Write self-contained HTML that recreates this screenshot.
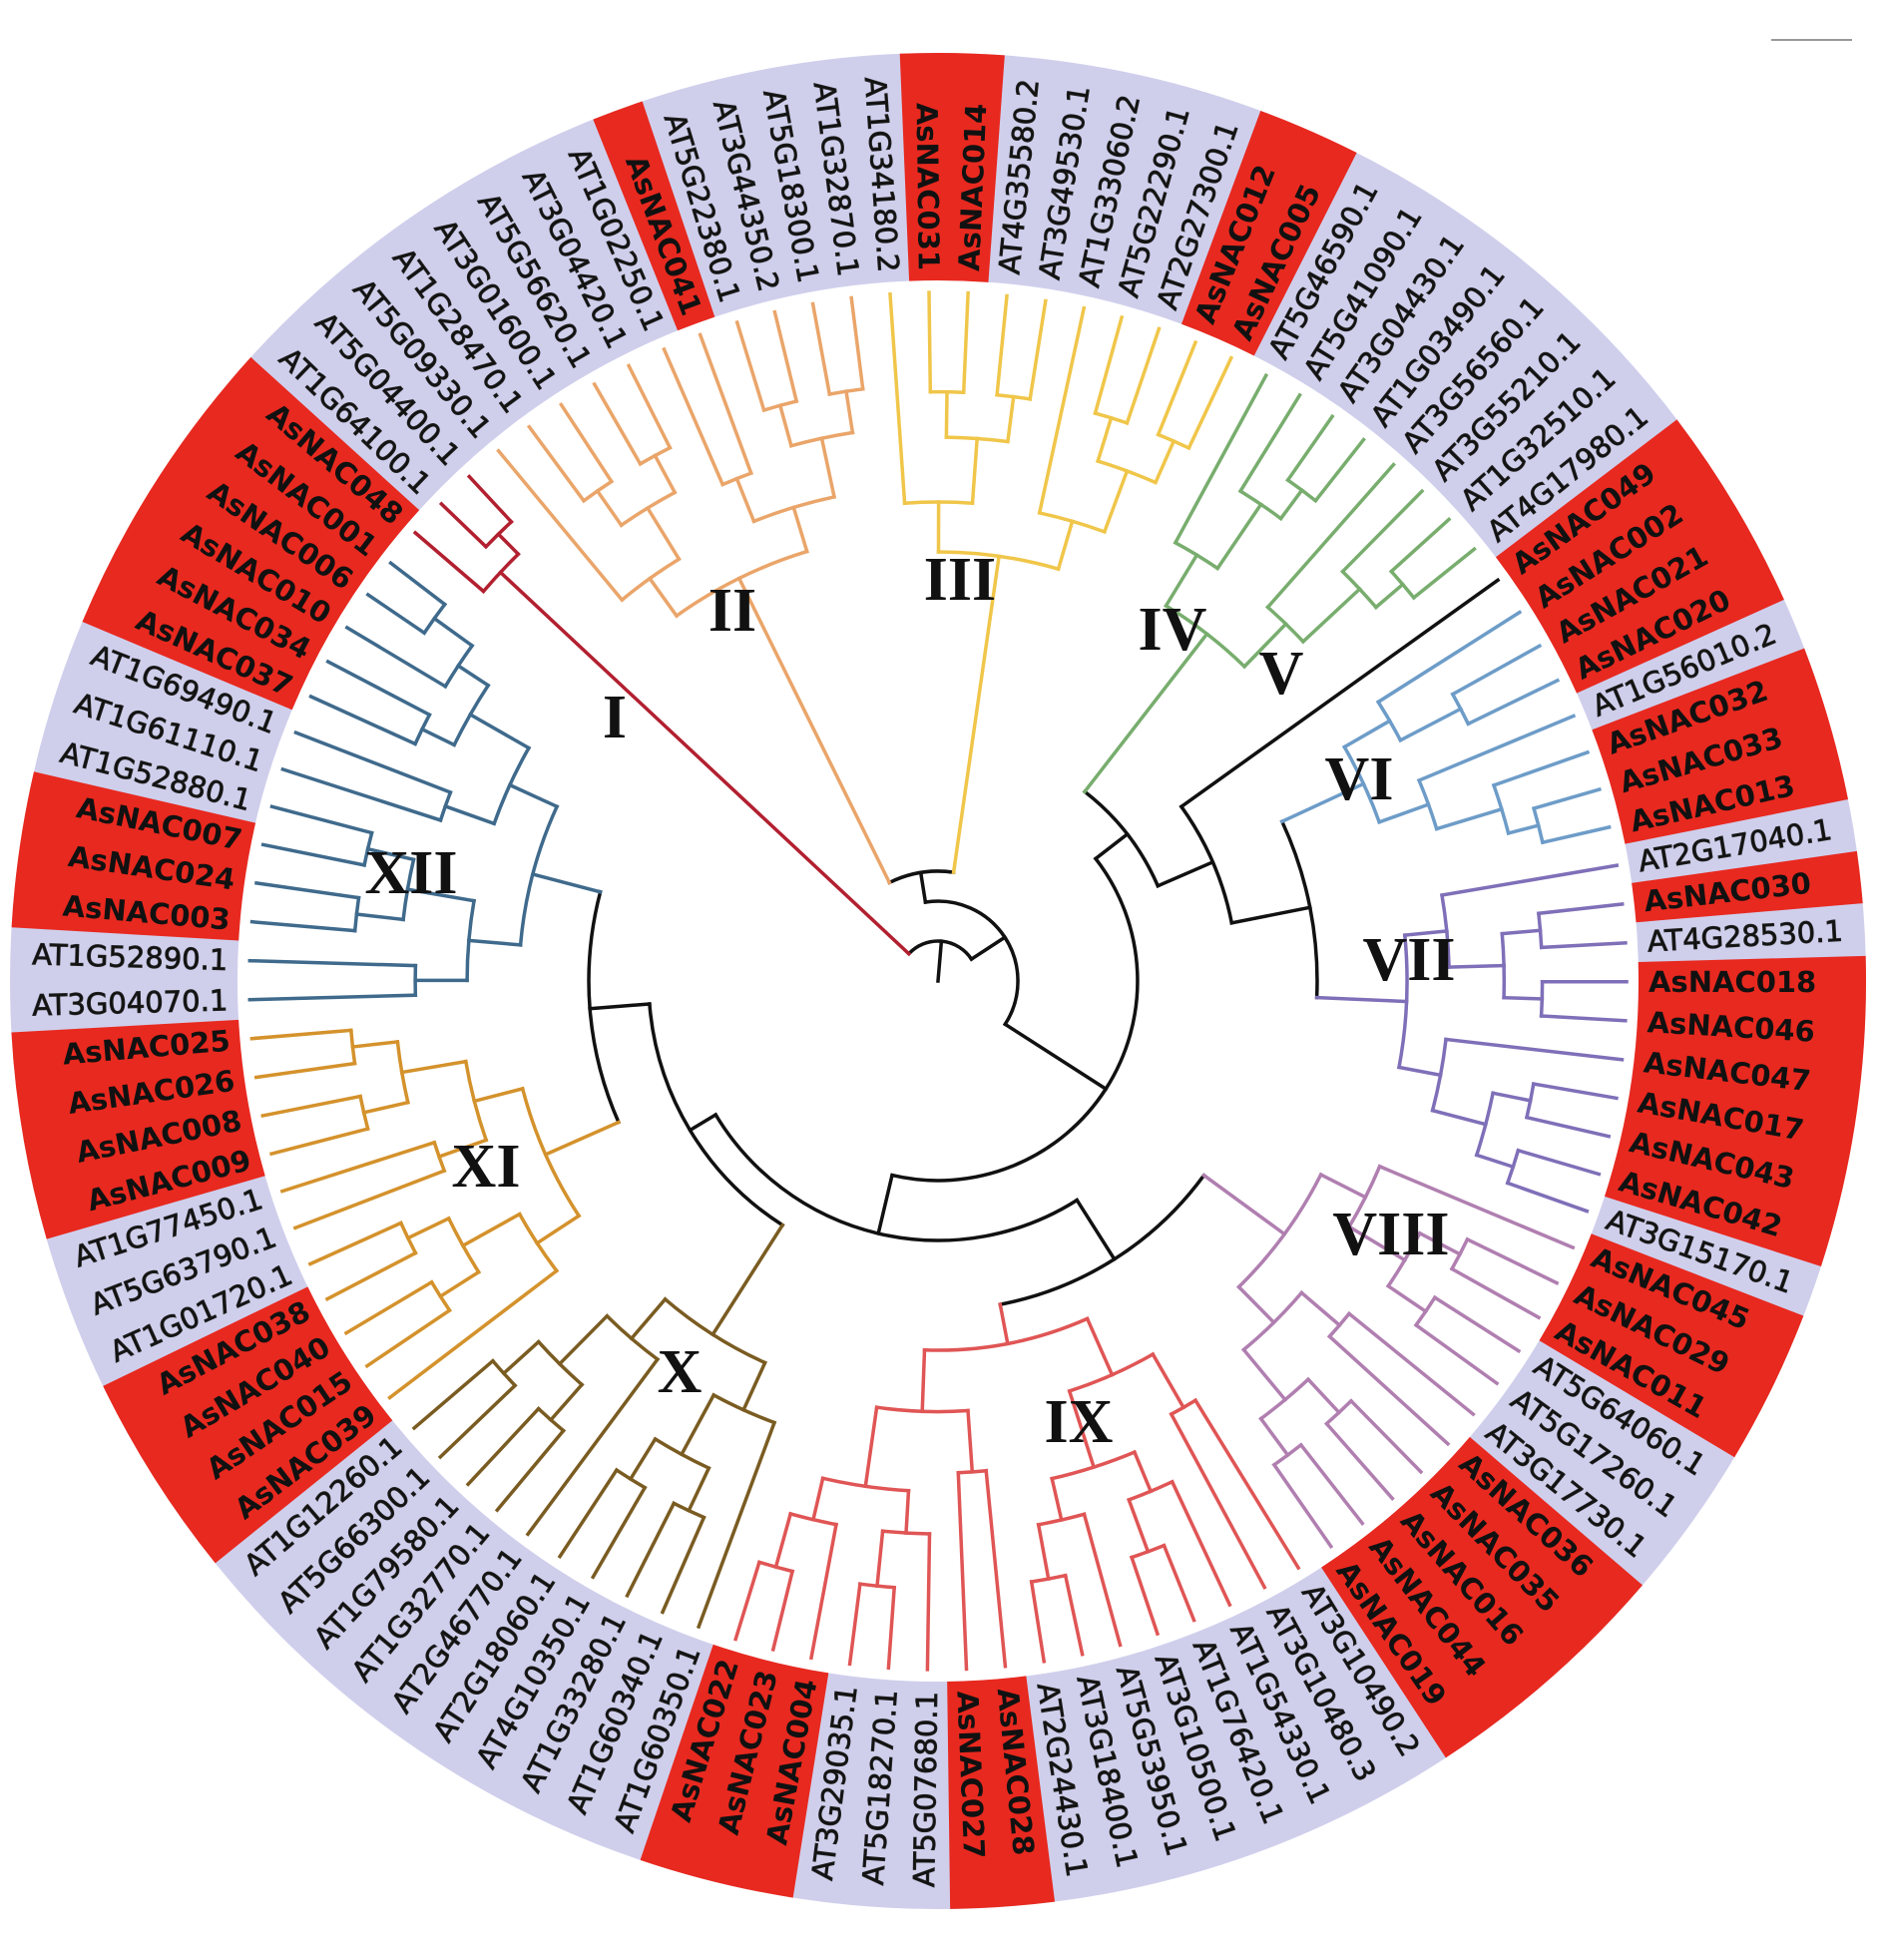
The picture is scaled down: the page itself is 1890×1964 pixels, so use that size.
<!DOCTYPE html>
<html><head><meta charset="utf-8"><style>
html,body{margin:0;padding:0;background:#fff;width:1890px;height:1964px;overflow:hidden;}
svg{display:block;}
.t text{font-family:"DejaVu Sans","Liberation Sans",sans-serif;font-size:29px;fill:#111;dominant-baseline:central;}
.r{text-anchor:start;}
.l{text-anchor:end;}
.a{font-weight:bold;fill:#1a0a0a;}
.n{stroke:#222;stroke-width:0.9px;}
.rom{font-family:"Liberation Serif",serif;font-weight:bold;font-size:62px;fill:#111;text-anchor:middle;dominant-baseline:central;}
</style></head><body>
<svg id="s" width="1890" height="1964" viewBox="0 0 1890 1964" xmlns="http://www.w3.org/2000/svg">
<rect width="1890" height="1964" fill="#fff"/>
<circle cx="940" cy="983" r="816" fill="none" stroke="#cfcfec" stroke-width="228"/>
<g fill="none" stroke="#e8291f" stroke-width="228">
<circle cx="940" cy="983" r="816" stroke-dasharray="92.38 6000" transform="rotate(267.64 940 983)"/>
<circle cx="940" cy="983" r="816" stroke-dasharray="92.38 6000" transform="rotate(-69.66 940 983)"/>
<circle cx="940" cy="983" r="816" stroke-dasharray="184.76 6000" transform="rotate(-37.23 940 983)"/>
<circle cx="940" cy="983" r="816" stroke-dasharray="138.57 6000" transform="rotate(-21.01 940 983)"/>
<circle cx="940" cy="983" r="816" stroke-dasharray="46.19 6000" transform="rotate(-8.04 940 983)"/>
<circle cx="940" cy="983" r="816" stroke-dasharray="277.14 6000" transform="rotate(-1.55 940 983)"/>
<circle cx="940" cy="983" r="816" stroke-dasharray="138.57 6000" transform="rotate(21.15 940 983)"/>
<circle cx="940" cy="983" r="816" stroke-dasharray="230.95 6000" transform="rotate(40.61 940 983)"/>
<circle cx="940" cy="983" r="816" stroke-dasharray="92.38 6000" transform="rotate(82.77 940 983)"/>
<circle cx="940" cy="983" r="816" stroke-dasharray="138.57 6000" transform="rotate(98.99 940 983)"/>
<circle cx="940" cy="983" r="816" stroke-dasharray="184.76 6000" transform="rotate(141.15 940 983)"/>
<circle cx="940" cy="983" r="816" stroke-dasharray="184.76 6000" transform="rotate(163.85 940 983)"/>
<circle cx="940" cy="983" r="816" stroke-dasharray="138.57 6000" transform="rotate(183.31 940 983)"/>
<circle cx="940" cy="983" r="816" stroke-dasharray="277.14 6000" transform="rotate(202.77 940 983)"/>
<circle cx="940" cy="983" r="816" stroke-dasharray="46.19 6000" transform="rotate(248.18 940 983)"/>
</g>
<line x1="1775" y1="40" x2="1856" y2="40" stroke="#999" stroke-width="2"/>
<g id="tree" fill="none" stroke-width="3.5" stroke-linecap="square"></g>
<g class="t">
<text class="r a" x="1652" y="983" transform="rotate(-87.5 940 983)">AsNAC014</text>
<text class="r n" x="1652" y="983" transform="rotate(-84.26 940 983)">AT4G35580.2</text>
<text class="r n" x="1652" y="983" transform="rotate(-81.01 940 983)">AT3G49530.1</text>
<text class="r n" x="1652" y="983" transform="rotate(-77.77 940 983)">AT1G33060.2</text>
<text class="r n" x="1652" y="983" transform="rotate(-74.53 940 983)">AT5G22290.1</text>
<text class="r n" x="1652" y="983" transform="rotate(-71.28 940 983)">AT2G27300.1</text>
<text class="r a" x="1652" y="983" transform="rotate(-68.04 940 983)">AsNAC012</text>
<text class="r a" x="1652" y="983" transform="rotate(-64.80 940 983)">AsNAC005</text>
<text class="r n" x="1652" y="983" transform="rotate(-61.55 940 983)">AT5G46590.1</text>
<text class="r n" x="1652" y="983" transform="rotate(-58.31 940 983)">AT5G41090.1</text>
<text class="r n" x="1652" y="983" transform="rotate(-55.07 940 983)">AT3G04430.1</text>
<text class="r n" x="1652" y="983" transform="rotate(-51.82 940 983)">AT1G03490.1</text>
<text class="r n" x="1652" y="983" transform="rotate(-48.58 940 983)">AT3G56560.1</text>
<text class="r n" x="1652" y="983" transform="rotate(-45.34 940 983)">AT3G55210.1</text>
<text class="r n" x="1652" y="983" transform="rotate(-42.09 940 983)">AT1G32510.1</text>
<text class="r n" x="1652" y="983" transform="rotate(-38.85 940 983)">AT4G17980.1</text>
<text class="r a" x="1652" y="983" transform="rotate(-35.61 940 983)">AsNAC049</text>
<text class="r a" x="1652" y="983" transform="rotate(-32.36 940 983)">AsNAC002</text>
<text class="r a" x="1652" y="983" transform="rotate(-29.12 940 983)">AsNAC021</text>
<text class="r a" x="1652" y="983" transform="rotate(-25.88 940 983)">AsNAC020</text>
<text class="r n" x="1652" y="983" transform="rotate(-22.64 940 983)">AT1G56010.2</text>
<text class="r a" x="1652" y="983" transform="rotate(-19.39 940 983)">AsNAC032</text>
<text class="r a" x="1652" y="983" transform="rotate(-16.15 940 983)">AsNAC033</text>
<text class="r a" x="1652" y="983" transform="rotate(-12.91 940 983)">AsNAC013</text>
<text class="r n" x="1652" y="983" transform="rotate(-9.66 940 983)">AT2G17040.1</text>
<text class="r a" x="1652" y="983" transform="rotate(-6.42 940 983)">AsNAC030</text>
<text class="r n" x="1652" y="983" transform="rotate(-3.18 940 983)">AT4G28530.1</text>
<text class="r a" x="1652" y="983" transform="rotate(0.07 940 983)">AsNAC018</text>
<text class="r a" x="1652" y="983" transform="rotate(3.31 940 983)">AsNAC046</text>
<text class="r a" x="1652" y="983" transform="rotate(6.55 940 983)">AsNAC047</text>
<text class="r a" x="1652" y="983" transform="rotate(9.80 940 983)">AsNAC017</text>
<text class="r a" x="1652" y="983" transform="rotate(13.04 940 983)">AsNAC043</text>
<text class="r a" x="1652" y="983" transform="rotate(16.28 940 983)">AsNAC042</text>
<text class="r n" x="1652" y="983" transform="rotate(19.53 940 983)">AT3G15170.1</text>
<text class="r a" x="1652" y="983" transform="rotate(22.77 940 983)">AsNAC045</text>
<text class="r a" x="1652" y="983" transform="rotate(26.01 940 983)">AsNAC029</text>
<text class="r a" x="1652" y="983" transform="rotate(29.26 940 983)">AsNAC011</text>
<text class="r n" x="1652" y="983" transform="rotate(32.50 940 983)">AT5G64060.1</text>
<text class="r n" x="1652" y="983" transform="rotate(35.74 940 983)">AT5G17260.1</text>
<text class="r n" x="1652" y="983" transform="rotate(38.99 940 983)">AT3G17730.1</text>
<text class="r a" x="1652" y="983" transform="rotate(42.23 940 983)">AsNAC036</text>
<text class="r a" x="1652" y="983" transform="rotate(45.47 940 983)">AsNAC035</text>
<text class="r a" x="1652" y="983" transform="rotate(48.72 940 983)">AsNAC016</text>
<text class="r a" x="1652" y="983" transform="rotate(51.96 940 983)">AsNAC044</text>
<text class="r a" x="1652" y="983" transform="rotate(55.20 940 983)">AsNAC019</text>
<text class="r n" x="1652" y="983" transform="rotate(58.45 940 983)">AT3G10490.2</text>
<text class="r n" x="1652" y="983" transform="rotate(61.69 940 983)">AT3G10480.3</text>
<text class="r n" x="1652" y="983" transform="rotate(64.93 940 983)">AT1G54330.1</text>
<text class="r n" x="1652" y="983" transform="rotate(68.18 940 983)">AT1G76420.1</text>
<text class="r n" x="1652" y="983" transform="rotate(71.42 940 983)">AT3G10500.1</text>
<text class="r n" x="1652" y="983" transform="rotate(74.66 940 983)">AT5G53950.1</text>
<text class="r n" x="1652" y="983" transform="rotate(77.91 940 983)">AT3G18400.1</text>
<text class="r n" x="1652" y="983" transform="rotate(81.15 940 983)">AT2G24430.1</text>
<text class="r a" x="1652" y="983" transform="rotate(84.39 940 983)">AsNAC028</text>
<text class="r a" x="1652" y="983" transform="rotate(87.64 940 983)">AsNAC027</text>
<text class="l n" x="228" y="983" transform="rotate(-89.12 940 983)">AT5G07680.1</text>
<text class="l n" x="228" y="983" transform="rotate(-85.88 940 983)">AT5G18270.1</text>
<text class="l n" x="228" y="983" transform="rotate(-82.64 940 983)">AT3G29035.1</text>
<text class="l a" x="228" y="983" transform="rotate(-79.39 940 983)">AsNAC004</text>
<text class="l a" x="228" y="983" transform="rotate(-76.15 940 983)">AsNAC023</text>
<text class="l a" x="228" y="983" transform="rotate(-72.91 940 983)">AsNAC022</text>
<text class="l n" x="228" y="983" transform="rotate(-69.66 940 983)">AT1G60350.1</text>
<text class="l n" x="228" y="983" transform="rotate(-66.42 940 983)">AT1G60340.1</text>
<text class="l n" x="228" y="983" transform="rotate(-63.18 940 983)">AT1G33280.1</text>
<text class="l n" x="228" y="983" transform="rotate(-59.93 940 983)">AT4G10350.1</text>
<text class="l n" x="228" y="983" transform="rotate(-56.69 940 983)">AT2G18060.1</text>
<text class="l n" x="228" y="983" transform="rotate(-53.45 940 983)">AT2G46770.1</text>
<text class="l n" x="228" y="983" transform="rotate(-50.20 940 983)">AT1G32770.1</text>
<text class="l n" x="228" y="983" transform="rotate(-46.96 940 983)">AT1G79580.1</text>
<text class="l n" x="228" y="983" transform="rotate(-43.72 940 983)">AT5G66300.1</text>
<text class="l n" x="228" y="983" transform="rotate(-40.47 940 983)">AT1G12260.1</text>
<text class="l a" x="228" y="983" transform="rotate(-37.23 940 983)">AsNAC039</text>
<text class="l a" x="228" y="983" transform="rotate(-33.99 940 983)">AsNAC015</text>
<text class="l a" x="228" y="983" transform="rotate(-30.74 940 983)">AsNAC040</text>
<text class="l a" x="228" y="983" transform="rotate(-27.50 940 983)">AsNAC038</text>
<text class="l n" x="228" y="983" transform="rotate(-24.26 940 983)">AT1G01720.1</text>
<text class="l n" x="228" y="983" transform="rotate(-21.01 940 983)">AT5G63790.1</text>
<text class="l n" x="228" y="983" transform="rotate(-17.77 940 983)">AT1G77450.1</text>
<text class="l a" x="228" y="983" transform="rotate(-14.53 940 983)">AsNAC009</text>
<text class="l a" x="228" y="983" transform="rotate(-11.28 940 983)">AsNAC008</text>
<text class="l a" x="228" y="983" transform="rotate(-8.04 940 983)">AsNAC026</text>
<text class="l a" x="228" y="983" transform="rotate(-4.80 940 983)">AsNAC025</text>
<text class="l n" x="228" y="983" transform="rotate(-1.55 940 983)">AT3G04070.1</text>
<text class="l n" x="228" y="983" transform="rotate(1.69 940 983)">AT1G52890.1</text>
<text class="l a" x="228" y="983" transform="rotate(4.93 940 983)">AsNAC003</text>
<text class="l a" x="228" y="983" transform="rotate(8.18 940 983)">AsNAC024</text>
<text class="l a" x="228" y="983" transform="rotate(11.42 940 983)">AsNAC007</text>
<text class="l n" x="228" y="983" transform="rotate(14.66 940 983)">AT1G52880.1</text>
<text class="l n" x="228" y="983" transform="rotate(17.91 940 983)">AT1G61110.1</text>
<text class="l n" x="228" y="983" transform="rotate(21.15 940 983)">AT1G69490.1</text>
<text class="l a" x="228" y="983" transform="rotate(24.39 940 983)">AsNAC037</text>
<text class="l a" x="228" y="983" transform="rotate(27.64 940 983)">AsNAC034</text>
<text class="l a" x="228" y="983" transform="rotate(30.88 940 983)">AsNAC010</text>
<text class="l a" x="228" y="983" transform="rotate(34.12 940 983)">AsNAC006</text>
<text class="l a" x="228" y="983" transform="rotate(37.36 940 983)">AsNAC001</text>
<text class="l a" x="228" y="983" transform="rotate(40.61 940 983)">AsNAC048</text>
<text class="l n" x="228" y="983" transform="rotate(43.85 940 983)">AT1G64100.1</text>
<text class="l n" x="228" y="983" transform="rotate(47.09 940 983)">AT5G04400.1</text>
<text class="l n" x="228" y="983" transform="rotate(50.34 940 983)">AT5G09330.1</text>
<text class="l n" x="228" y="983" transform="rotate(53.58 940 983)">AT1G28470.1</text>
<text class="l n" x="228" y="983" transform="rotate(56.82 940 983)">AT3G01600.1</text>
<text class="l n" x="228" y="983" transform="rotate(60.07 940 983)">AT5G56620.1</text>
<text class="l n" x="228" y="983" transform="rotate(63.31 940 983)">AT3G04420.1</text>
<text class="l n" x="228" y="983" transform="rotate(66.55 940 983)">AT1G02250.1</text>
<text class="l a" x="228" y="983" transform="rotate(69.80 940 983)">AsNAC041</text>
<text class="l n" x="228" y="983" transform="rotate(73.04 940 983)">AT5G22380.1</text>
<text class="l n" x="228" y="983" transform="rotate(76.28 940 983)">AT3G44350.2</text>
<text class="l n" x="228" y="983" transform="rotate(79.53 940 983)">AT5G18300.1</text>
<text class="l n" x="228" y="983" transform="rotate(82.77 940 983)">AT1G32870.1</text>
<text class="l n" x="228" y="983" transform="rotate(86.01 940 983)">AT1G34180.2</text>
<text class="l a" x="228" y="983" transform="rotate(89.26 940 983)">AsNAC031</text>
</g>
<g>
<text class="rom" x="616" y="719">I</text>
<text class="rom" x="734" y="612">II</text>
<text class="rom" x="962" y="581">III</text>
<text class="rom" x="1175" y="631">IV</text>
<text class="rom" x="1284" y="675">V</text>
<text class="rom" x="1362" y="781">VI</text>
<text class="rom" x="1412" y="962">VII</text>
<text class="rom" x="1394" y="1237">VIII</text>
<text class="rom" x="1081" y="1425">IX</text>
<text class="rom" x="681" y="1375">X</text>
<text class="rom" x="487" y="1169">XI</text>
<text class="rom" x="412" y="875">XII</text>
</g>
</svg>
<script>
(function(){
var cx=940,cy=983,S=360/111,A0=2.5,TIP=690;
var g=document.getElementById('tree'),out='';
function rad(i){return (A0+i*S)*Math.PI/180;}
function pt(r,i){var a=rad(i);return [cx+r*Math.sin(a),cy-r*Math.cos(a)];}
function gen(lo,hi,r,col,d){
  if(lo===hi)return {leaf:lo,c:col};
  var n=hi-lo+1,m;
  if(d%2===0)m=lo+Math.floor(n/2)-1; else m=lo+Math.max(0,Math.floor(n/3)-1);
  var st=(TIP-r)/(Math.ceil(Math.log(n)/Math.log(2))+1.2);
  return {r:r,c:col,ch:[gen(lo,m,r+st,col,d+1),gen(m+1,hi,r+st*(d%2?1.3:1),col,d+1)]};
}
function N(r,ch,col){return {r:r,c:col||'#111',ch:ch};}
function idx(n){if(n.leaf!==undefined)return n.leaf;return (idx(n.ch[0])+idx(n.ch[n.ch.length-1]))/2;}
function draw(n,rp){
  var i=idx(n),rn=(n.leaf!==undefined)?TIP:n.r;
  var p1=pt(rp,i),p2=pt(rn,i);
  out+='<path stroke="'+n.c+'" d="M'+p1[0].toFixed(1)+' '+p1[1].toFixed(1)+'L'+p2[0].toFixed(1)+' '+p2[1].toFixed(1)+'"/>';
  if(n.ch){
    var a=idx(n.ch[0]),b=idx(n.ch[n.ch.length-1]);
    var q1=pt(rn,a),q2=pt(rn,b),large=((b-a)*S>180)?1:0;
    out+='<path stroke="'+n.c+'" d="M'+q1[0].toFixed(1)+' '+q1[1].toFixed(1)+'A'+rn+' '+rn+' 0 '+large+' 1 '+q2[0].toFixed(1)+' '+q2[1].toFixed(1)+'"/>';
    for(var k=0;k<n.ch.length;k++)draw(n.ch[k],rn);
  }
}
var C=function(lo,hi,r,col){return gen(lo,hi,r,col,0);};
var root=N(40,[
  C(95,97,600,'#b22030'),
  N(80,[
    N(110,[C(98,108,450,'#eaa56a'),C(109,118,430,'#f0c64a')]),
    N(200,[
      N(240,[C(119,126,440,'#78ad6e'),
        N(300,[{leaf:127,c:'#111'},
          N(380,[C(128,134,470,'#6d9cc8'),C(135,144,470,'#7f6fb8')])])]),
      N(260,[
        N(330,[C(145,155,430,'#b07fb0'),C(156,171,370,'#e05555')]),
        N(290,[C(172,181,420,'#7a5c22'),
          N(350,[C(182,192,430,'#d4922c'),C(193,205,420,'#3f6a8c')])])])])])]);
draw(root,0);
g.innerHTML=out;
})();
</script>
</body></html>
